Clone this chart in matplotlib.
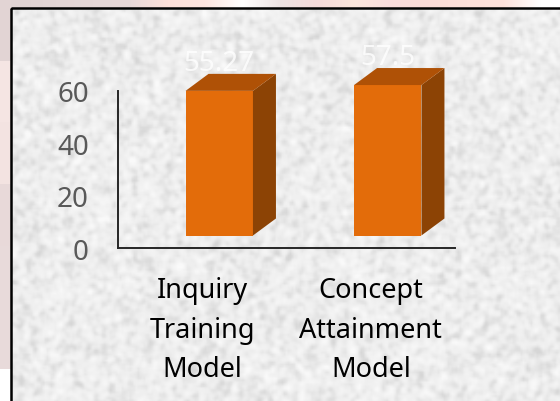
import numpy as np
import matplotlib
matplotlib.use("Agg")
import matplotlib.pyplot as plt
from matplotlib.patches import Polygon, Rectangle
from matplotlib.colors import LinearSegmentedColormap, to_rgb

categories = ["Inquiry\nTraining\nModel", "Concept\nAttainment\nModel"]
values = [55.27, 57.5]
value_labels = ["55.27", "57.5"]
y_ticks = [0, 20, 40, 60]

W, H = 560, 402
FONT = "Noto Sans"
FRONT, TOP, SIDE = "#e36c0a", "#af5106", "#8c4305"
AXIS_COLOR = "#262626"
TICK_COLOR = "#595959"

fig = plt.figure(figsize=(W / 100, H / 100), dpi=100, facecolor="white")

def pix_axes(left, top, right, bottom, **kw):
    return fig.add_axes([left / W, 1 - bottom / H, (right - left) / W, (bottom - top) / H], **kw)

# pale blurred slide backdrop around the frame
bg = pix_axes(0, 0, W, H, zorder=0)
bg.axis("off")
top_strip = ["#e0d3d3", "#e3d6d6", "#e6d8d8", "#e8d9d9", "#fde0da", "#fde5e0", "#ffffff",
             "#ede3e3", "#f5dada", "#fbe6dc", "#f9dcdc", "#fbdcd8", "#fde0da", "#fde2dc", "#ffffff"]
bg.imshow(np.array([[to_rgb(c) for c in top_strip]]),
          extent=(0, W, 9, 0), aspect="auto", interpolation="bilinear")
left_strip = ["#e2d4d4", "#f5e5e3", "#f3e3e1", "#e8d9d9", "#e8dada", "#e8dada"]
bg.imshow(np.array([[to_rgb(c)] for c in left_strip]),
          extent=(0, 11, 370, 0), aspect="auto", interpolation="nearest")

# speckled paper panel inside the black frame
rng = np.random.default_rng(3)
noise = rng.normal(size=(H // 2, W // 2))
kernel = np.array([1, 3, 5, 3, 1], float); kernel /= kernel.sum()
noise = np.apply_along_axis(lambda r: np.convolve(r, kernel, "same"), 1, noise)
noise = np.apply_along_axis(lambda r: np.convolve(r, kernel, "same"), 0, noise)
noise = noise / noise.std()
cmap = LinearSegmentedColormap.from_list("paper", ["#d6d6d6", "#eeeeee", "#fafafa"])
bg.imshow(noise, extent=(11, W + 4, H + 4, 9), cmap=cmap, vmin=-3, vmax=3,
          aspect="auto", interpolation="bilinear", zorder=1)
bg.set_xlim(0, W); bg.set_ylim(H, 0)
bg.add_patch(Rectangle((11, 9), W, H, fill=False, ec="black", lw=1.8, zorder=2))

# axis frame: value scale 0-60
ax_l, ax_r, ax_top, ax_bot = 118, 455, 92, 249
ax = pix_axes(ax_l, ax_top, ax_r, ax_bot, zorder=2)
ax.patch.set_alpha(0)
ax.set_xlim(-0.5, 1.5)
ax.set_ylim(0, 60)
for s in ("top", "right"):
    ax.spines[s].set_visible(False)
for s in ("left", "bottom"):
    ax.spines[s].set_color(AXIS_COLOR)
    ax.spines[s].set_linewidth(1.4)
ax.set_yticks(y_ticks)
ax.set_yticklabels([str(v) for v in y_ticks], fontfamily=FONT, fontsize=20, color=TICK_COLOR)
ax.tick_params(axis="y", length=0, pad=21)
ax.set_xticks(range(len(categories)))
ax.set_xticklabels(categories, fontfamily=FONT, fontsize=19.5, color="black", linespacing=1.53)
ax.tick_params(axis="x", length=0, pad=20.5)

# 3-D look bars, drawn in a layer sharing the value scale but raised by the floor offset
floor = 12.5
ax3 = pix_axes(ax_l, ax_top - floor, ax_r, ax_bot - floor, zorder=3)
ax3.set_xlim(-0.5, 1.5); ax3.set_ylim(0, 60); ax3.axis("off")
px_x = (ax_r - ax_l) / 2
px_y = (ax_bot - ax_top) / 60
half = 33.7 / px_x
shift = 17 / px_x
dx, dy = 23 / px_x, 17 / px_y

for i, v in enumerate(values):
    x0, x1 = i + shift - half, i + shift + half
    ax3.add_patch(Polygon([(x0, 0), (x1, 0), (x1, v), (x0, v)], closed=True, fc=FRONT, ec="none"))
    ax3.add_patch(Polygon([(x1, 0), (x1 + dx, dy), (x1 + dx, v + dy), (x1, v)], closed=True, fc=SIDE, ec="none", clip_on=False))
    ax3.add_patch(Polygon([(x0, v), (x1, v), (x1 + dx, v + dy), (x0 + dx, v + dy)], closed=True, fc=TOP, ec="none", clip_on=False))
    ax3.annotate(value_labels[i], (i + shift, v), xytext=(0, 28 * 72 / 100), textcoords="offset points",
                 ha="center", va="center", fontfamily=FONT, fontsize=20, color="white",
                 alpha=0.8, annotation_clip=False)

fig.savefig("out.png", dpi=100)
